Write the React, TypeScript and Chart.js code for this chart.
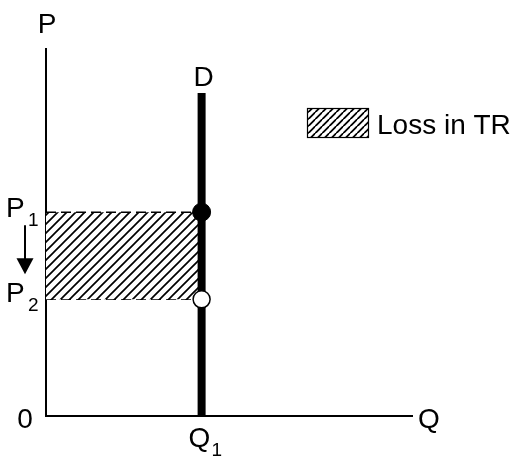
import { useEffect, useRef } from "react";
import { Chart, registerables } from "chart.js";

Chart.register(...registerables);

// ---- data ----
const quantityRange = [0, 10];
const priceRange = [0, 10];
const demandQ = [4.24, 4.24];
const demandP = [0, 8.78];
const priceLevels = [5.54, 3.17]; // P1, P2
const priceSubscripts = ["1", "2"];
const axisNames = ["P", "Q", "0"];
const demandName = "D";
const quantityName = ["Q", "1"];
const legendLabels = ["Loss in TR"];

const FONT = "'Liberation Sans', Arial, Helvetica, sans-serif";

function makeHatch(ctx: CanvasRenderingContext2D, size: number, lw: number) {
  const c = document.createElement("canvas");
  c.width = size;
  c.height = size;
  const g = c.getContext("2d")!;
  g.fillStyle = "#fff";
  g.fillRect(0, 0, size, size);
  g.strokeStyle = "#000";
  g.lineWidth = lw;
  g.beginPath();
  g.moveTo(0, size);
  g.lineTo(size, 0);
  g.moveTo(-size / 2, size / 2);
  g.lineTo(size / 2, -size / 2);
  g.moveTo(size / 2, size * 1.5);
  g.lineTo(size * 1.5, size / 2);
  g.stroke();
  return ctx.createPattern(c, "repeat")!;
}

const labelsPlugin = {
  id: "econLabels",
  afterDraw(chart: any) {
    const { ctx } = chart;
    const xs = chart.scales.x;
    const ys = chart.scales.y;
    const x0 = xs.getPixelForValue(0);
    const y0 = ys.getPixelForValue(0);
    const xTop = ys.getPixelForValue(priceRange[1]);
    const xEnd = xs.getPixelForValue(quantityRange[1]);
    const q1 = xs.getPixelForValue(demandQ[0]);
    const dTop = ys.getPixelForValue(demandP[1]);
    const p1 = ys.getPixelForValue(priceLevels[0]);
    const p2 = ys.getPixelForValue(priceLevels[1]);

    ctx.save();
    ctx.fillStyle = "#000";
    ctx.textBaseline = "alphabetic";
    const big = `28px ${FONT}`;
    const small = `19px ${FONT}`;

    // P axis name
    ctx.font = big;
    ctx.textAlign = "center";
    ctx.fillText(axisNames[0], x0 + 1, xTop - 15);
    // origin
    ctx.fillText(axisNames[2], x0 - 21, y0 + 12);
    // Q axis name
    ctx.textAlign = "left";
    ctx.fillText(axisNames[1], xEnd + 5, y0 + 12);
    // D
    ctx.textAlign = "center";
    ctx.fillText(demandName, q1 + 2, dTop - 7);
    // Q1
    ctx.textAlign = "left";
    ctx.fillText(quantityName[0], q1 - 13, y0 + 31);
    ctx.font = small;
    ctx.fillText(quantityName[1], q1 + 10, y0 + 40);

    // P1, P2
    const pys = [p1, p2];
    const offs = [5, 3];
    pys.forEach((py, i) => {
      ctx.font = big;
      ctx.fillText(axisNames[0], 6, py + offs[i]);
      ctx.font = small;
      ctx.fillText(priceSubscripts[i], 28, py + offs[i] + 9);
    });

    // arrow
    const ax = 25;
    ctx.strokeStyle = "#000";
    ctx.lineWidth = 2;
    ctx.beginPath();
    ctx.moveTo(ax, p1 + 13);
    ctx.lineTo(ax, p2 - 36);
    ctx.stroke();
    ctx.beginPath();
    ctx.moveTo(ax - 8.5, p2 - 41);
    ctx.lineTo(ax + 8.5, p2 - 41);
    ctx.lineTo(ax, p2 - 25);
    ctx.closePath();
    ctx.fill();

    // legend
    const bx = 307, by = 108, bw = 62, bh = 30;
    ctx.fillStyle = makeHatch(ctx, 7.5, 1.8);
    ctx.fillRect(bx, by, bw, bh);
    ctx.strokeStyle = "#000";
    ctx.lineWidth = 1.2;
    ctx.strokeRect(bx + 0.5, by + 0.5, bw - 1, bh - 1);
    ctx.fillStyle = "#000";
    ctx.font = big;
    ctx.textAlign = "left";
    ctx.fillText(legendLabels[0], bx + 70, by + 26);
    ctx.restore();
  },
};

export default function App() {
  const ref = useRef<HTMLCanvasElement | null>(null);
  useEffect(() => {
    const canvas = ref.current!;
    const ctx = canvas.getContext("2d")!;
    const pattern = makeHatch(ctx, 9, 1.7);
    const chart = new Chart(canvas, {
      type: "line",
      data: {
        datasets: [
          {
            label: "P1 point",
            data: [{ x: demandQ[0], y: priceLevels[0] }],
            showLine: false,
            pointRadius: 9,
            pointBackgroundColor: "#000",
            pointBorderColor: "#000",
            pointBorderWidth: 1,
            order: 0,
            clip: false,
          },
          {
            label: "P2 point",
            data: [{ x: demandQ[0], y: priceLevels[1] }],
            showLine: false,
            pointRadius: 8.5,
            pointBackgroundColor: "#fff",
            pointBorderColor: "#000",
            pointBorderWidth: 1.5,
            order: 1,
            clip: false,
          },
          {
            label: "D",
            data: demandQ.map((q, i) => ({ x: q, y: demandP[i] })),
            borderColor: "#000",
            borderWidth: 8,
            borderCapStyle: "butt",
            pointRadius: 0,
            fill: false,
            order: 2,
            clip: false,
          },
          {
            label: "Loss top",
            data: [
              { x: 0, y: priceLevels[0] },
              { x: demandQ[0], y: priceLevels[0] },
            ],
            borderColor: "#000",
            borderWidth: 1.5,
            borderDash: [10, 5],
            backgroundColor: pattern,
            fill: "+1",
            pointRadius: 0,
            order: 3,
          },
          {
            label: "Loss bottom",
            data: [
              { x: 0, y: priceLevels[1] },
              { x: demandQ[0], y: priceLevels[1] },
            ],
            borderColor: "#000",
            borderWidth: 1.5,
            borderDash: [10, 5],
            fill: false,
            pointRadius: 0,
            order: 4,
          },
          {
            label: "Axes",
            data: [
              { x: quantityRange[0], y: priceRange[1] },
              { x: quantityRange[0], y: priceRange[0] },
              { x: quantityRange[1], y: priceRange[0] },
            ],
            borderColor: "#000",
            borderWidth: 2,
            pointRadius: 0,
            fill: false,
            order: 5,
            clip: false,
          },
        ],
      },
      options: {
        animation: false,
        responsive: false,
        events: [],
        layout: { padding: { left: 46, right: 104, top: 48, bottom: 41 } },
        scales: {
          x: { type: "linear", min: quantityRange[0], max: quantityRange[1], display: false },
          y: { type: "linear", min: priceRange[0], max: priceRange[1], display: false },
        },
        plugins: { legend: { display: false }, tooltip: { enabled: false } },
      },
      plugins: [labelsPlugin],
    } as any);
    return () => chart.destroy();
  }, []);
  return (
    <canvas
      ref={ref}
      width={517}
      height={457}
      style={{ position: "absolute", left: 0, top: 0, display: "block", background: "#fff" }}
    />
  );
}
